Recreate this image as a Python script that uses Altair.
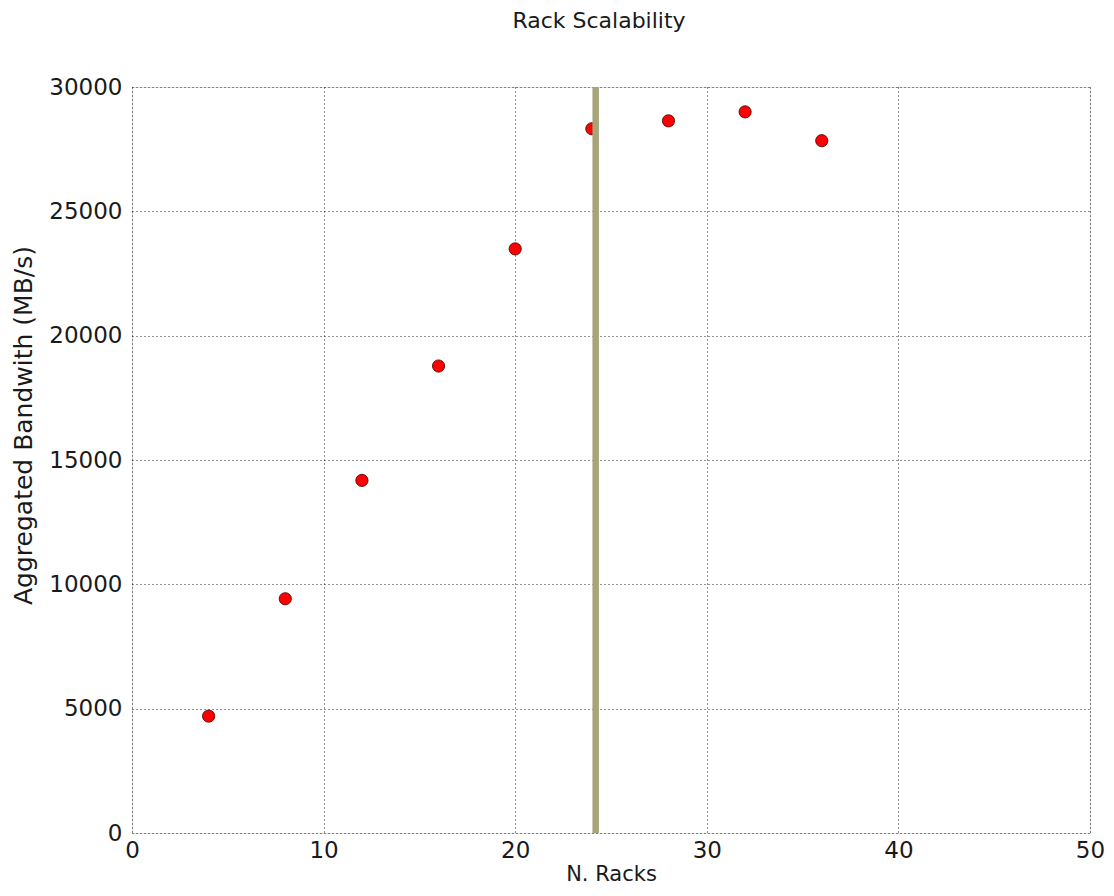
import altair as alt
import pandas as pd

racks = [4, 8, 12, 16, 20, 24, 28, 32, 36]
bandwidth = [4700, 9420, 14180, 18780, 23490, 28320, 28640, 29000, 27840]
marker_x = [24.2]

df = pd.DataFrame({"racks": racks, "bw": bandwidth})
df_line = pd.DataFrame({"x": marker_x})

FONT = "DejaVu Sans"
TXT = "#1a1a1a"

xscale = alt.Scale(domain=[0, 50], nice=False, zero=False)
yscale = alt.Scale(domain=[0, 30000], nice=False)

points = alt.Chart(df).mark_point(
    filled=True, size=150, color="#ff0000", stroke="#400000", strokeWidth=0.8, opacity=1
).encode(
    x=alt.X("racks:Q", scale=xscale, title="N. Racks",
            axis=alt.Axis(values=[0, 10, 20, 30, 40, 50], format="d", grid=True,
                          gridDash=[1, 3], gridColor="#000000", gridOpacity=0.85,
                          ticks=False, domain=False, labelPadding=6, labelFlush=False,
                          labelFontSize=23, titleFontSize=21, titleFontWeight="normal",
                          titlePadding=1, labelFont=FONT, titleFont=FONT,
                          labelColor=TXT, titleColor=TXT)),
    y=alt.Y("bw:Q", scale=yscale, title="Aggregated Bandwith (MB/s)",
            axis=alt.Axis(values=[0, 5000, 10000, 15000, 20000, 25000, 30000], format="d",
                          grid=True, gridDash=[1, 3], gridColor="#000000", gridOpacity=0.85,
                          ticks=False, domain=False, labelPadding=10, labelFlush=False,
                          labelFontSize=23, titleFontSize=25, titleFontWeight="normal",
                          titlePadding=12, titleY=338, labelFont=FONT, titleFont=FONT,
                          labelColor=TXT, titleColor=TXT)),
)

vline = alt.Chart(df_line).mark_rule(color="#a7a47a", strokeWidth=6.5).encode(
    x=alt.X("x:Q", scale=xscale)
)

chart = alt.layer(points, vline).properties(
    width=958,
    height=746,
    title=alt.TitleParams("Rack Scalability", fontSize=22, fontWeight="normal",
                          font=FONT, color=TXT, offset=43, anchor="middle", dx=-12),
    autosize=alt.AutoSizeParams(type="none"),
    padding={"left": 124, "top": 79, "right": 16, "bottom": 55},
).configure_view(
    stroke="#000000", strokeWidth=1.8
).configure(background="white")

chart.save("out.html", embed_options={"renderer": "svg", "actions": False})
